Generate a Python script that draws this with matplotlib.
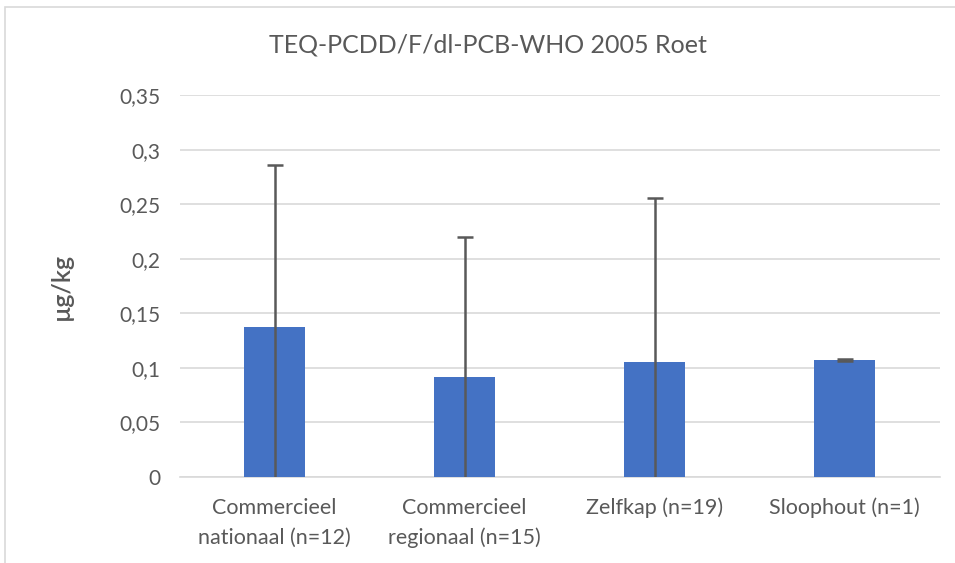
import matplotlib.pyplot as plt
import matplotlib.patches as mpatches
from matplotlib.ticker import FuncFormatter
import numpy as np

# data
categories = ['Commercieel\nnationaal (n=12)', 'Commercieel\nregionaal (n=15)',
              'Zelfkap (n=19)', 'Sloophout (n=1)']
means = [0.1375, 0.0915, 0.1055, 0.1075]
errors = [0.148, 0.128, 0.150, 0.001]

plt.rcParams['font.family'] = ['Lato', 'DejaVu Sans']
grey = '#595959'

fig = plt.figure(figsize=(9.55, 5.63), dpi=100)
ax = fig.add_axes([0.188, 0.1527, 0.796, 0.6785])

x = np.arange(len(categories))
ax.bar(x, means, width=0.32, color='#4472C4', zorder=3)
ax.errorbar(x, means, yerr=errors, fmt='none', ecolor=grey, elinewidth=1.8,
            capsize=6, capthick=1.8, zorder=4)

ax.set_ylim(0, 0.35)
ax.set_xlim(-0.5, 3.5)
ax.set_yticks(np.arange(0, 0.351, 0.05))
ax.yaxis.set_major_formatter(FuncFormatter(
    lambda v, p: '0' if v == 0 else f'{v:.2f}'.rstrip('0').replace('.', ',')))
ax.set_xticks(x)
ax.set_xticklabels(categories, color=grey, fontsize=15.5, linespacing=1.6)
ax.tick_params(axis='y', colors=grey, labelsize=15, length=0, pad=14)
ax.tick_params(axis='x', length=0, pad=15)

ax.grid(True, axis='y', color='#D9D9D9', linewidth=1.2, zorder=0)
for s in ['top', 'right', 'left']:
    ax.spines[s].set_visible(False)
ax.spines['bottom'].set_color('#D9D9D9')
ax.spines['bottom'].set_linewidth(1.2)

ax.set_ylabel('µg/kg', color=grey, fontsize=18, fontweight='semibold', labelpad=33)
fig.text(0.511, 0.92, 'TEQ-PCDD/F/dl-PCB-WHO 2005 Roet', ha='center', va='center',
         color=grey, fontsize=18)

# chart area border
fig.patches.append(mpatches.Rectangle((5 / 955, -0.1), 1.1, 1 - 7 / 563 + 0.1,
                                      transform=fig.transFigure, fill=False,
                                      edgecolor='#D9D9D9', linewidth=1.2))

fig.savefig('out.png', dpi=100)
